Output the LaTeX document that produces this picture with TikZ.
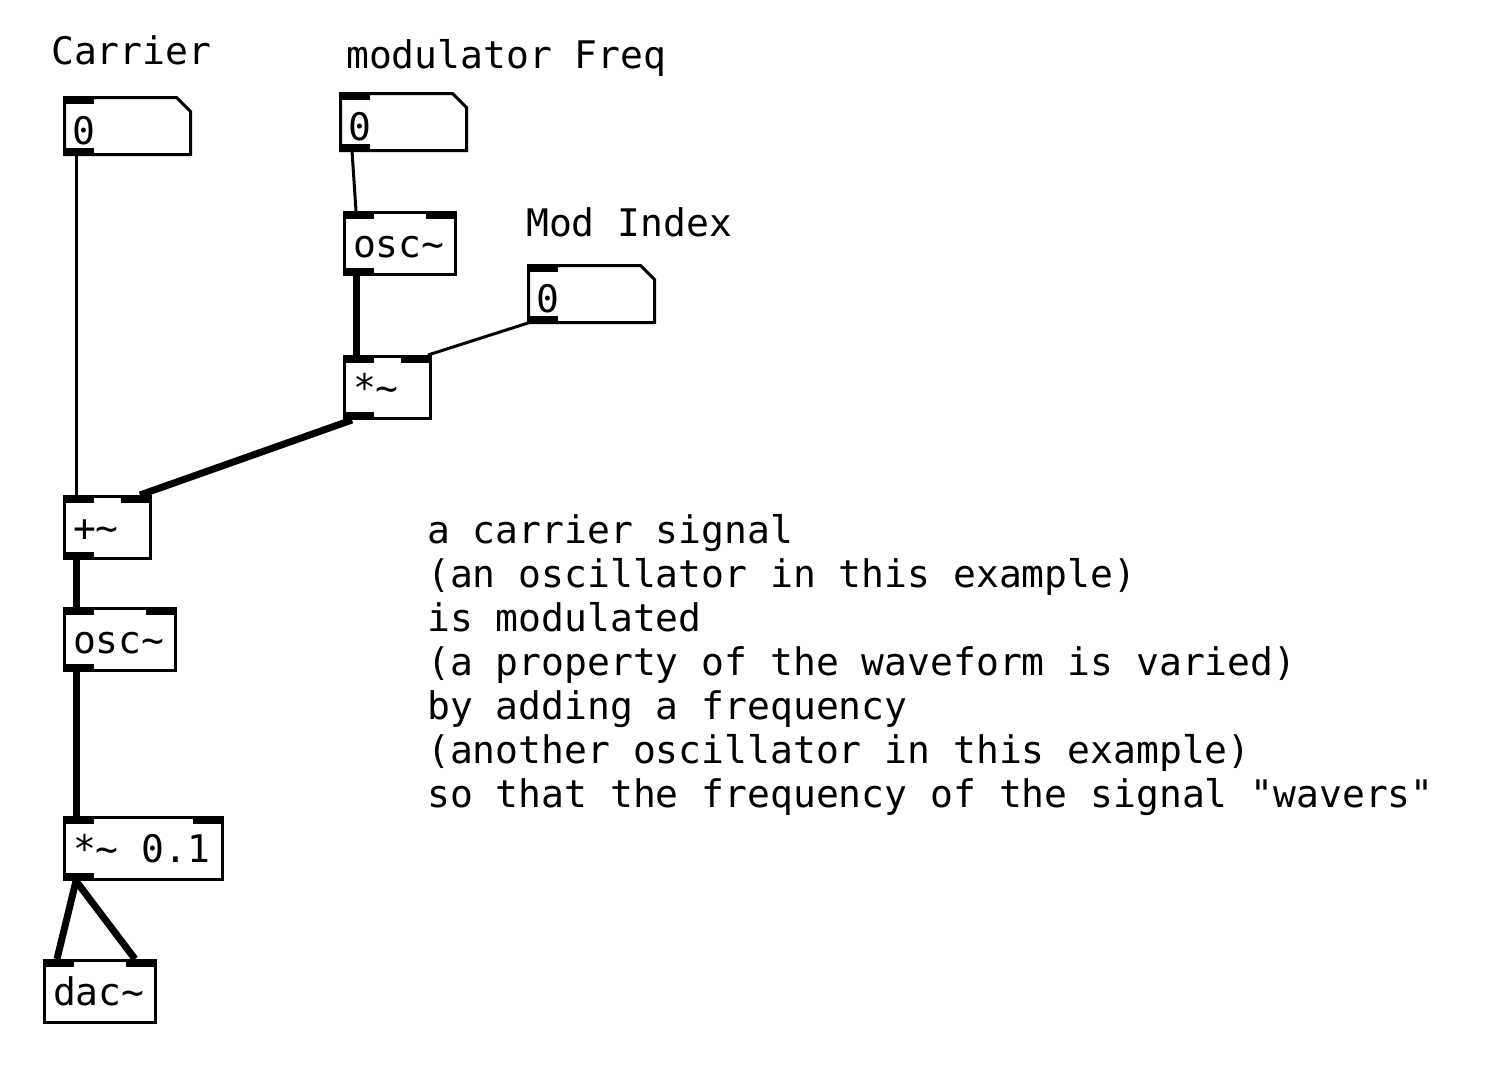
\documentclass[tikz,border=0pt]{standalone}
\usepackage{fontspec}
\newfontfamily\pdfont{DejaVu Sans Mono}
\usetikzlibrary{positioning,calc}

\begin{document}
\begin{tikzpicture}[
    x=1pt, y=-1pt,
    object/.style={
        rectangle,
        draw,
        line width=3pt,
        anchor=north west,
        inner xsep=8.5pt,
        inner ysep=12pt,
        text height=32.5pt,
        text depth=5.5pt,
        text width=#1,
        align=left,
        font=\pdfont\fontsize{38}{44}\selectfont
    },
    number/.style={
        rectangle,
        anchor=north west,
        outer sep=0pt,
        inner xsep=8pt,
        inner ysep=9pt,
        text height=37.5pt,
        text depth=1.5pt,
        text width=110pt,
        align=left,
        font=\pdfont\fontsize{38}{44}\selectfont
    },
    label/.style={
        anchor=base west,
        inner sep=0pt,
        font=\pdfont\fontsize{38}{44}\selectfont
    },
    control/.style={line width=3pt},
    signal/.style={line width=7pt}
]

\useasboundingbox (0,0) rectangle (1486,1066);

% ------------------------------------------------------------
% Number boxes and their labels
% ------------------------------------------------------------

\node[label] (carrierlbl) at (51,64) {Carrier};
\node[number] (carrier) at (64.5,97.5) {0};

\node[label] (freqlbl) at (346,68) {modulator Freq};
\node[number] (modfreq) at (340.5,93.5) {0};

\node[label] (indexlbl) at (526,236) {Mod Index};
\node[number] (modindex) at (528.5,265.5) {0};

\foreach \n in {carrier,modfreq,modindex} {
    \draw[line width=3pt] (\n.north west) -- ([xshift=-14pt]\n.north east)
        -- ([yshift=-14pt]\n.north east) -- (\n.south east)
        -- (\n.south west) -- cycle;
    \fill ([shift={(-1.5,-1.5)}]\n.north west) rectangle ++(31,8);
    \fill ([shift={(-1.5,1.5)}]\n.south west) rectangle ++(31,-8);
}

% ------------------------------------------------------------
% Objects
% ------------------------------------------------------------

\node[object=94pt] (modosc) at (343,211) {osc\char`\~};
\node[object=69pt] (modmul) at (343,355) {*\char`\~};
\node[object=69pt] (add) at (63,495) {+\char`\~};
\node[object=94pt] (carosc) at (63,607) {osc\char`\~};
\node[object=141pt] (gain) at (63,816) {*\char`\~\kern0.602em 0.1};
\node[object=94pt] (dac) at (43,959) {dac\char`\~};

\foreach \n in {modosc,modmul,add,carosc,gain,dac} {
    \fill (\n.north west) rectangle ++(31,8);
    \fill (\n.north east) rectangle ++(-31,8);
}
\foreach \n in {modosc,modmul,add,carosc,gain}
    \fill (\n.south west) rectangle ++(31,-8);

% ------------------------------------------------------------
% Connections
% ------------------------------------------------------------

\draw[control] ([xshift=11.5pt]carrier.south west) -- ([xshift=13pt]add.north west);
\draw[control] ([xshift=11.5pt]modfreq.south west) -- ([xshift=13pt]modosc.north west);
\draw[control] ([xshift=1pt]modindex.south west) -- ([xshift=-4pt]modmul.north east);

\draw[signal] ([xshift=13pt]modosc.south west) -- ([xshift=13pt]modmul.north west);
\draw[signal] ([xshift=9pt]modmul.south west) -- ([xshift=-12pt]add.north east);
\draw[signal] ([xshift=13pt]add.south west) -- ([xshift=13pt]carosc.north west);
\draw[signal] ([xshift=13pt]carosc.south west) -- ([xshift=13pt]gain.north west);
\draw[signal] ([xshift=13pt]gain.south west) -- ([xshift=14pt]dac.north west);
\draw[signal] ([xshift=13pt]gain.south west) -- ([xshift=-22pt]dac.north east);

% ------------------------------------------------------------
% Comment
% ------------------------------------------------------------

\node[anchor=north west, inner sep=0pt, align=left,
      font=\pdfont\fontsize{38}{44}\selectfont] (comment) at (427,514)
    {a carrier signal\\
     (an oscillator in this example)\\
     is modulated\\
     (a property of the waveform is varied)\\
     by adding a frequency\\
     (another oscillator in this example)\\
     so that the frequency of the signal "wavers"};

\end{tikzpicture}
\end{document}
